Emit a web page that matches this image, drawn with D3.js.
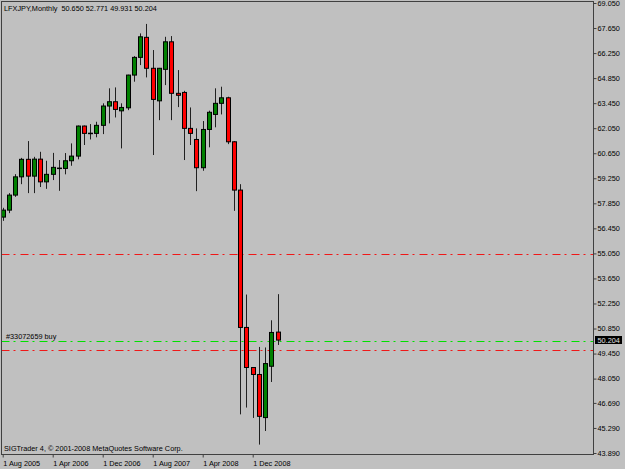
<!DOCTYPE html>
<html>
<head>
<meta charset="utf-8">
<script src="https://cdn.jsdelivr.net/npm/d3@7"></script>
<style>
  body { margin: 0; background: #c0c0c0; }
  svg text { font-family: "Liberation Sans", Arial, sans-serif; font-size: 7.3px; fill: #000; }
</style>
</head>
<body>
<svg id="chart" width="625" height="469"></svg>
<script>
// Monthly LFXJPY bars, Aug 2005 .. Apr 2009
const months = [
  "2005-08", "2005-09", "2005-10", "2005-11", "2005-12",
  "2006-01", "2006-02", "2006-03", "2006-04", "2006-05", "2006-06",
  "2006-07", "2006-08", "2006-09", "2006-10", "2006-11", "2006-12",
  "2007-01", "2007-02", "2007-03", "2007-04", "2007-05", "2007-06",
  "2007-07", "2007-08", "2007-09", "2007-10", "2007-11", "2007-12",
  "2008-01", "2008-02", "2008-03", "2008-04", "2008-05", "2008-06",
  "2008-07", "2008-08", "2008-09", "2008-10", "2008-11", "2008-12",
  "2009-01", "2009-02", "2009-03", "2009-04"
];
const opens = [
  57.08, 57.47, 58.31, 59.33, 60.31, 59.37, 60.32, 59.05, 59.47, 59.82,
  59.80, 60.23, 60.49, 62.17, 61.77, 61.76, 62.21, 63.29, 63.53, 63.02,
  63.19, 65.02, 66.01, 67.13, 65.40, 63.58, 65.34, 66.88, 64.00, 64.05,
  62.04, 61.42, 59.84, 61.98, 62.82, 63.44, 63.75, 61.29, 58.59, 50.91,
  48.67, 48.28, 45.87, 48.74, 50.650
];
const highs = [
  57.60, 58.42, 59.48, 60.39, 61.33, 60.45, 60.73, 60.23, 60.67, 60.27,
  60.66, 61.20, 62.20, 62.20, 62.28, 62.41, 63.44, 64.28, 64.33, 63.44,
  65.04, 66.08, 67.35, 67.88, 66.42, 65.42, 67.16, 67.20, 65.30, 64.14,
  63.21, 62.04, 62.45, 63.03, 64.28, 64.37, 63.81, 61.33, 58.92, 52.75,
  48.69, 49.82, 49.79, 51.31, 52.771
];
const lows = [
  56.87, 57.30, 58.21, 58.92, 58.42, 58.42, 58.76, 58.66, 59.15, 58.55,
  59.47, 59.95, 60.31, 61.11, 61.42, 61.54, 61.72, 62.32, 62.65, 60.92,
  63.06, 64.65, 65.58, 64.89, 60.55, 62.50, 64.46, 62.50, 63.23, 60.27,
  61.11, 58.53, 59.67, 60.98, 62.10, 62.82, 61.16, 57.43, 46.05, 46.43,
  45.85, 44.36, 45.12, 47.86, 49.931
];
const closes = [
  57.47, 58.31, 59.33, 60.31, 59.37, 60.32, 59.05, 59.47, 59.86, 59.80,
  60.23, 60.49, 62.17, 61.76, 61.76, 62.21, 63.29, 63.53, 63.10, 63.21,
  65.02, 66.01, 67.16, 65.40, 63.66, 65.40, 66.88, 64.00, 63.89, 62.04,
  61.76, 59.84, 61.98, 62.94, 63.44, 63.75, 61.29, 58.59, 50.91, 48.67,
  48.28, 45.94, 48.89, 50.63, 50.204
];

// price scale labels on the right
const priceTicks = [69.05, 67.65, 66.25, 64.85, 63.45, 62.05, 60.65, 59.25, 57.85,
  56.45, 55.05, 53.65, 52.25, 50.85, 49.45, 48.05, 46.69, 45.29, 43.89];

// date labels on the bottom (bar index -> label)
const dateTickIndex = [0, 8, 16, 24, 32, 40];
const dateTickLabels = ["1 Aug 2005", "1 Apr 2006", "1 Dec 2006", "1 Aug 2007", "1 Apr 2008", "1 Dec 2008"];

// horizontal levels: stop (red), order open (green), stop (red)
const levelPrices = [55.03, 50.17, 49.67];
const orderLabel = "#33072659 buy";
const lastPrice = 50.204;
const titleText = "LFXJPY,Monthly  50.650 52.771 49.931 50.204";
const footerText = "SIGTrader 4, \u00A9 2001-2008 MetaQuotes Software Corp.";

const svg = d3.select("#chart");

// Plot box
const plotLeft = 1.5, plotRight = 593.5, plotTop = 1.5, plotBottom = 454.5;

var y = d3.scaleLinear()
    .domain([43.89, 69.05])
    .range([453, 3]);

var x = d3.scaleLinear()
    .domain([0, months.length - 1])
    .range([2.7, 277.7]);

// frame
svg.append("rect")
    .attr("x", plotLeft)
    .attr("y", plotTop)
    .attr("width", plotRight - plotLeft)
    .attr("height", plotBottom - plotTop)
    .attr("fill", "#c0c0c0")
    .attr("stroke", "#404040")
    .attr("stroke-width", 1);

svg.append("clipPath").attr("id", "plotClip")
    .append("rect")
    .attr("x", plotLeft + 0.5)
    .attr("y", plotTop + 0.5)
    .attr("width", plotRight - plotLeft - 1)
    .attr("height", plotBottom - plotTop - 1);

const plot = svg.append("g").attr("clip-path", "url(#plotClip)");

// Horizontal level lines
const levelColors = ["#f01818", "#00e000", "#f01818"];
plot.selectAll(".level")
    .data(levelPrices)
    .enter().append("line")
    .attr("class", "level")
    .attr("x1", plotLeft)
    .attr("x2", plotRight)
    .attr("y1", d => Math.round(y(d)) + 0.5)
    .attr("y2", d => Math.round(y(d)) + 0.5)
    .attr("stroke", (d, i) => levelColors[i])
    .attr("stroke-width", 1)
    .attr("stroke-dasharray", "8,4,2,5");

svg.append("text")
    .attr("x", 6)
    .attr("y", Math.round(y(levelPrices[1])) - 2.5)
    .text(orderLabel);

// Candles
const bars = months.map(function (m, i) {
    return { m: m, i: i, o: opens[i], h: highs[i], l: lows[i], c: closes[i] };
});

const candle = plot.selectAll(".candle")
    .data(bars)
    .enter().append("g")
    .attr("class", "candle");

candle.append("line")
    .attr("x1", d => Math.round(x(d.i)) + 0.5)
    .attr("x2", d => Math.round(x(d.i)) + 0.5)
    .attr("y1", d => y(d.h))
    .attr("y2", d => y(d.l))
    .attr("stroke", "#202020")
    .attr("stroke-width", 1);

candle.append("rect")
    .attr("x", d => Math.round(x(d.i)) - 2 + 0.5)
    .attr("y", d => y(Math.max(d.o, d.c)))
    .attr("width", 4)
    .attr("height", d => Math.max(0.5, Math.abs(y(d.o) - y(d.c))))
    .attr("fill", d => d.c >= d.o ? "#008000" : "#ff0000")
    .attr("stroke", "#000")
    .attr("stroke-width", 1);

// Right price axis
const yAxis = svg.append("g")
    .attr("transform", "translate(" + plotRight + ",0)")
    .call(d3.axisRight(y)
        .tickValues(priceTicks)
        .tickSize(3)
        .tickPadding(1)
        .tickFormat(d3.format(".3f")));
yAxis.select(".domain").remove();
yAxis.selectAll("line").attr("stroke", "#404040");
yAxis.selectAll("text")
    .style("font-family", "'Liberation Sans', Arial, sans-serif")
    .style("font-size", "7.3px")
    .attr("fill", "#000");

// current price marker
svg.append("rect")
    .attr("x", 595)
    .attr("y", Math.round(y(lastPrice)) - 4)
    .attr("width", 27)
    .attr("height", 8)
    .attr("fill", "#000");
svg.append("text")
    .attr("x", 597.5)
    .attr("y", y(lastPrice))
    .attr("dy", "0.35em")
    .style("fill", "#e0e0e0")
    .text(d3.format(".3f")(lastPrice));

// Bottom date axis
const xAxis = svg.append("g")
    .attr("transform", "translate(0," + plotBottom + ")")
    .call(d3.axisBottom(x)
        .tickValues(dateTickIndex)
        .tickSize(3)
        .tickFormat((d, i) => dateTickLabels[i]));
xAxis.select(".domain").remove();
xAxis.selectAll("line").attr("stroke", "#404040");
xAxis.selectAll("text")
    .attr("text-anchor", "start")
    .attr("x", 0)
    .attr("y", 11)
    .attr("dy", null)
    .style("font-family", "'Liberation Sans', Arial, sans-serif")
    .style("font-size", "7.3px")
    .attr("fill", "#000");

// Title and footer
svg.append("text")
    .attr("x", 4)
    .attr("y", 10.5)
    .attr("xml:space", "preserve")
    .style("white-space", "pre")
    .text(titleText);

svg.append("text")
    .attr("x", 4)
    .attr("y", 451)
    .text(footerText);
</script>
</body>
</html>
